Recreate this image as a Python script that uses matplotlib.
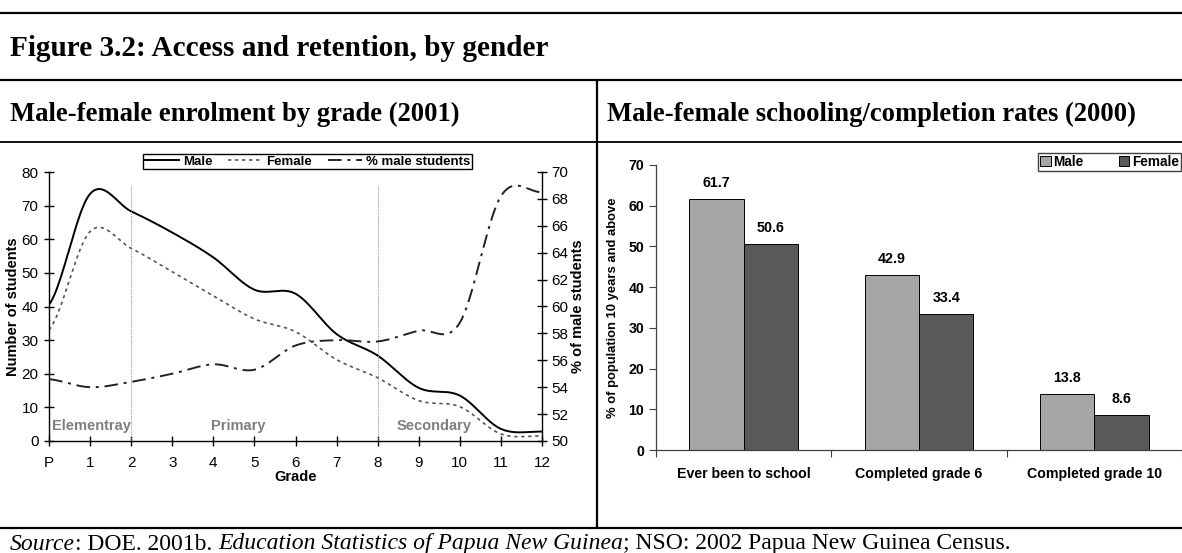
import numpy as np
import matplotlib
matplotlib.use("Agg")
import matplotlib.pyplot as plt
from matplotlib.lines import Line2D
from matplotlib.patches import Patch

# ---------------- data ----------------
grades = ['P', '1', '2', '3', '4', '5', '6', '7', '8', '9', '10', '11', '12']
male_enrol = [40.5, 73.5, 68.3, 62.0, 54.6, 45.0, 43.8, 31.8, 25.4, 15.8, 13.5, 3.6, 2.8]
female_enrol = [33.0, 62.3, 57.3, 50.3, 43.2, 36.3, 32.5, 24.2, 18.8, 12.0, 10.2, 2.1, 1.5]
pct_male = [54.6, 54.0, 54.4, 55.0, 55.7, 55.3, 57.1, 57.5, 57.4, 58.2, 58.8, 68.2, 68.5]
stage_names = ['Elementray', 'Primary', 'Secondary']
stage_bounds = [2, 8]

categories = ['Ever been to school', 'Completed grade 6', 'Completed grade 10']
male_rates = [61.7, 42.9, 13.8]
female_rates = [50.6, 33.4, 8.6]

# ---------------- helpers ----------------
W, H = 1182, 553
def fx(x):
    return x / W
def fy(y):
    return 1 - y / H

def smooth(xs, ys, n=24):
    """Catmull-Rom style smoothing (as in spreadsheet 'smoothed line')."""
    xs = np.asarray(xs, float)
    ys = np.asarray(ys, float)
    yp = np.concatenate([[ys[0]], ys, [ys[-1]]])
    outx, outy = [], []
    for i in range(len(xs) - 1):
        p0, p1, p2, p3 = yp[i], yp[i + 1], yp[i + 2], yp[i + 3]
        m1 = (p2 - p0) / 2.0
        m2 = (p3 - p1) / 2.0
        t = np.linspace(0, 1, n, endpoint=(i == len(xs) - 2))
        h00 = 2 * t**3 - 3 * t**2 + 1
        h10 = t**3 - 2 * t**2 + t
        h01 = -2 * t**3 + 3 * t**2
        h11 = t**3 - t**2
        outy.append(h00 * p1 + h10 * m1 + h01 * p2 + h11 * m2)
        outx.append(xs[i] + t * (xs[i + 1] - xs[i]))
    return np.concatenate(outx), np.concatenate(outy)

SANS = 'Liberation Sans'
SERIF = 'Liberation Serif'

fig = plt.figure(figsize=(W / 100, H / 100), dpi=100)
fig.patch.set_facecolor('white')
renderer = fig.canvas.get_renderer()

def fit_text(x, y, s, target_w, **kw):
    t = fig.text(fx(x), fy(y), s, fontsize=10, **kw)
    w = t.get_window_extent(renderer).width
    t.set_fontsize(10 * target_w / w)
    return t

# ---------------- frame lines ----------------
def hline(y, x0=0, x1=W, lw=2.0):
    fig.add_artist(Line2D([fx(x0), fx(x1)], [fy(y), fy(y)], transform=fig.transFigure,
                          color='black', lw=lw, solid_capstyle='butt'))
def vline(x, y0, y1, lw=2.0):
    fig.add_artist(Line2D([fx(x), fx(x)], [fy(y0), fy(y1)], transform=fig.transFigure,
                          color='black', lw=lw, solid_capstyle='butt'))

hline(13, lw=1.6)
hline(80, lw=1.6)
hline(142, lw=1.3)
hline(528, lw=1.6)
vline(597, 80, 528, lw=1.6)

fit_text(10, 48, 'Figure 3.2: Access and retention, by gender', 540, family=SERIF,
         weight='bold', va='center', ha='left')
sub1 = fit_text(10, 114, 'Male-female enrolment by grade (2001)', 452, family=SERIF,
                weight='bold', va='center', ha='left')
fig.text(fx(607), fy(114), 'Male-female schooling/completion rates (2000)', family=SERIF,
         weight='bold', fontsize=sub1.get_fontsize(), va='center', ha='left')

# source line with mixed styles
pieces = [('Source', 'italic'), (': DOE. 2001b. ', 'normal'),
          ('Education Statistics of Papua New Guinea', 'italic'),
          ('; NSO: 2002 Papua New Guinea Census.', 'normal')]
xpix = 10
for txt, st in pieces:
    t = fig.text(fx(xpix), fy(544), txt, family=SERIF, style=st, fontsize=17.0,
                 va='center', ha='left')
    bb = t.get_window_extent(renderer)
    xpix += bb.width

# ---------------- left chart ----------------
axL = fig.add_axes([fx(49), fy(441), (542 - 49) / W, (441 - 172) / H])
xpos = np.arange(len(grades))
sx, sm = smooth(xpos, male_enrol)
_, sf = smooth(xpos, female_enrol)
axL.plot(sx, sm, color='black', lw=1.4, label='Male')
axL.plot(sx, sf, color='#555555', lw=1.2, linestyle=(0, (2, 2.2)), label='Female')
axL.set_xlim(0, 12)
axL.set_ylim(0, 80)
axL.set_xticks(xpos)
axL.set_xticklabels(grades)
axL.set_yticks(np.arange(0, 81, 10))
for b in stage_bounds:
    axL.plot([b, b], [0, 76], color='#999999', lw=0.8, linestyle=(0, (1, 1)))
lab_kw = dict(family=SANS, weight='bold', color='#7f7f7f', fontsize=10.5, va='bottom')
axL.text(0.08, 2.3, stage_names[0], ha='left', **lab_kw)
axL.text(4.6, 2.3, stage_names[1], ha='center', **lab_kw)
axL.text(9.37, 2.3, stage_names[2], ha='center', **lab_kw)
axL.spines['top'].set_visible(False)
axL.spines['right'].set_visible(False)
for s in ['left', 'bottom']:
    axL.spines[s].set_linewidth(1.0)
axL.tick_params(direction='inout', length=7, width=1.0, labelsize=11)
axL.tick_params(axis='x', pad=7)
axL.tick_params(axis='y', pad=4)
for lab in axL.get_xticklabels() + axL.get_yticklabels():
    lab.set_family(SANS)
axL.set_xlabel('Grade', family=SANS, weight='bold', fontsize=10.5, labelpad=0)
axL.set_ylabel('Number of students', family=SANS, weight='bold', fontsize=10.5, labelpad=1)

axR2 = axL.twinx()
_, sp = smooth(xpos, pct_male)
axR2.plot(sx, sp, color='#222222', lw=1.4, linestyle=(0, (7, 3, 1.5, 3)), label='% male students')
axR2.set_ylim(50, 70)
axR2.set_yticks(np.arange(50, 71, 2))
axR2.spines['top'].set_visible(False)
axR2.spines['left'].set_visible(False)
axR2.spines['bottom'].set_visible(False)
axR2.spines['right'].set_linewidth(1.0)
axR2.tick_params(direction='inout', length=7, width=1.0, labelsize=11, pad=3)
for lab in axR2.get_yticklabels():
    lab.set_family(SANS)
axR2.set_ylabel('% of male students', family=SANS, weight='bold', fontsize=10.5, labelpad=2)

handles = axL.get_lines()[:2] + axR2.get_lines()[:1]
leg = fig.legend(handles, ['Male', 'Female', '% male students'], loc='center',
                 bbox_to_anchor=(fx(307.5), fy(161.5)), bbox_transform=fig.transFigure,
                 ncol=3, frameon=True, fancybox=False, edgecolor='black', framealpha=1,
                 prop={'family': SANS, 'weight': 'bold', 'size': 9.5},
                 handlelength=2.6, handletextpad=0.3, columnspacing=1.2,
                 borderpad=0.12, borderaxespad=0)
leg.get_frame().set_linewidth(1.0)

# ---------------- right chart ----------------
axB = fig.add_axes([fx(656), fy(450), (1182 - 656) / W, (450 - 165) / H])
cx = np.arange(len(categories))
bw = 0.31
axB.bar(cx - bw / 2, male_rates, width=bw, color='#a6a6a6', edgecolor='black', lw=0.7, label='Male')
axB.bar(cx + bw / 2, female_rates, width=bw, color='#595959', edgecolor='black', lw=0.7, label='Female')
for i in range(len(categories)):
    axB.text(cx[i] - bw / 2, male_rates[i] + 2.2, f'{male_rates[i]:.1f}', family=SANS,
             weight='bold', fontsize=10.3, ha='center', va='bottom')
    axB.text(cx[i] + bw / 2, female_rates[i] + 2.2, f'{female_rates[i]:.1f}', family=SANS,
             weight='bold', fontsize=10.3, ha='center', va='bottom')
axB.set_xlim(-0.5, -0.5 + 526 / 179)
axB.set_ylim(0, 70)
axB.set_yticks(np.arange(0, 71, 10))
axB.set_xticks([-0.5, 0.5, 1.5, 2.5])
axB.set_xticklabels([])
axB.set_xticks(cx, minor=True)
axB.set_xticklabels(categories, minor=True)
axB.tick_params(axis='x', which='major', direction='out', length=5, width=0.8, color='#404040')
axB.tick_params(axis='x', which='minor', length=0, pad=12, labelsize=10.2)
axB.tick_params(axis='y', direction='out', length=5, width=0.8, color='#404040', labelsize=10.2)
for lab in axB.get_xticklabels(minor=True) + axB.get_yticklabels():
    lab.set_family(SANS)
    lab.set_weight('bold')
axB.spines['top'].set_visible(False)
axB.spines['right'].set_visible(False)
for s in ['left', 'bottom']:
    axB.spines[s].set_color('#404040')
    axB.spines[s].set_linewidth(0.9)
axB.set_ylabel('% of population 10 years and above', family=SANS, weight='bold', fontsize=9.4,
               labelpad=7)

legB = fig.legend([Patch(facecolor='#a6a6a6', edgecolor='black', lw=0.7),
                   Patch(facecolor='#595959', edgecolor='black', lw=0.7)],
                  ['Male', 'Female'], loc='upper right',
                  bbox_to_anchor=(fx(1181), fy(153)), bbox_transform=fig.transFigure,
                  ncol=2, frameon=True, fancybox=False, edgecolor='#404040', framealpha=1,
                  prop={'family': SANS, 'weight': 'bold', 'size': 9.8},
                  handlelength=0.75, handleheight=0.75, handletextpad=0.2, columnspacing=2.6,
                  borderpad=0.15, borderaxespad=0)
legB.get_frame().set_linewidth(1.0)

fig.savefig('out.png', dpi=100, facecolor='white')
